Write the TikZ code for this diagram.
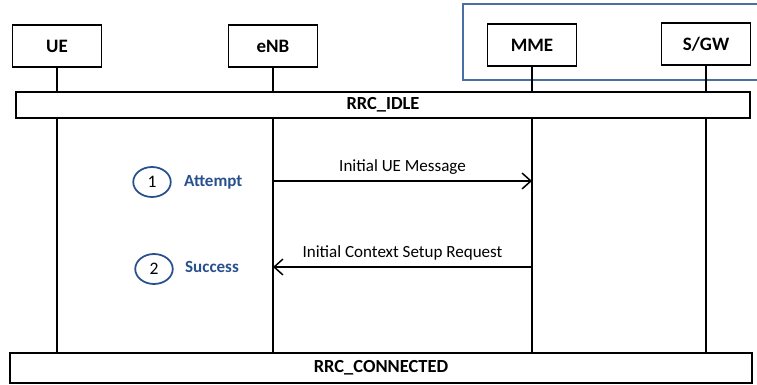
\documentclass[tikz,border=0pt]{standalone}
\usepackage{fontspec}
\setmainfont{Carlito}
\usetikzlibrary{positioning,shapes.geometric,arrows.meta}
\definecolor{epcblue}{RGB}{74,111,165}
\definecolor{stepblue}{RGB}{40,80,140}
\begin{document}
\begin{tikzpicture}[thick,>={Straight Barb[length=5pt,width=9pt]},x=0.02cm,y=-0.02cm]
  \tikzstyle{entity}=[draw,rectangle,line width=1.1pt,minimum width=1.78cm,minimum height=0.84cm,font=\fontsize{10.8}{12}\selectfont\bfseries]
  \tikzstyle{state}=[draw,rectangle,fill=white,line width=1.1pt,font=\fontsize{10.5}{12}\selectfont\bfseries]
  \tikzstyle{life}=[line width=0.85pt]
  \tikzstyle{msg}=[line width=0.85pt,->]
  \tikzstyle{stepnum}=[draw=stepblue,ellipse,line width=1pt,minimum width=0.75cm,minimum height=0.6cm,inner sep=0pt,font=\fontsize{10}{12}\selectfont]
  \tikzstyle{steptext}=[text=stepblue,font=\fontsize{9.7}{12}\selectfont\bfseries]
  \useasboundingbox (0,0) rectangle (757,385);
  \def\ya{181}	% y of first message
  \def\yb{267}	% y of second message
  % EPC frame, cut off at the right
  \draw[epcblue,line width=0.7pt] (463,4) rectangle (790,80);
  % entities
  \node[entity] (UE) at (57,46) {UE};
  \node[entity] (eNB) at (273,46) {eNB};
  \node[entity] (MME) at (532,45) {MME};
  \node[entity] (SGW) at (706,44) {S/GW};
  % states
  \node[state,minimum width=14.68cm,minimum height=0.52cm] (idle) at (383,105) {RRC\_IDLE};
  \node[state,minimum width=14.84cm,minimum height=0.6cm] (conn) at (381,368) {RRC\_CONNECTED};
  % lifelines
  \foreach \n in {UE,eNB,MME,SGW} {
    \draw[life] (\n.south) -- (\n.south |- idle.north);
    \draw[life] (\n.south |- idle.south) -- (\n.south |- conn.north);
  }
  \path (eNB.south |- 0,\ya) coordinate (enb1);
  \path (MME.south |- 0,\ya) coordinate (mme1);
  \path (eNB.south |- 0,\yb) coordinate (enb2);
  \path (MME.south |- 0,\yb) coordinate (mme2);
  % messages
  \draw[msg] (enb1) -- node[above=0pt,font=\fontsize{9.7}{12}\selectfont]{Initial UE Message} (mme1);
  \draw[msg] (mme2) -- node[above=0pt,font=\fontsize{9.7}{12}\selectfont]{Initial Context Setup Request} (enb2);
  % steps
  \node[stepnum] (s1) at (152,182) {1};
  \node[steptext,right=0.12cm of s1] (att) {Attempt};
  \node[stepnum] (s2) at (154,269) {2};
  \node[steptext,right=0.1cm of s2,yshift=0.04cm] (suc) {Success};
\end{tikzpicture}
\end{document}
